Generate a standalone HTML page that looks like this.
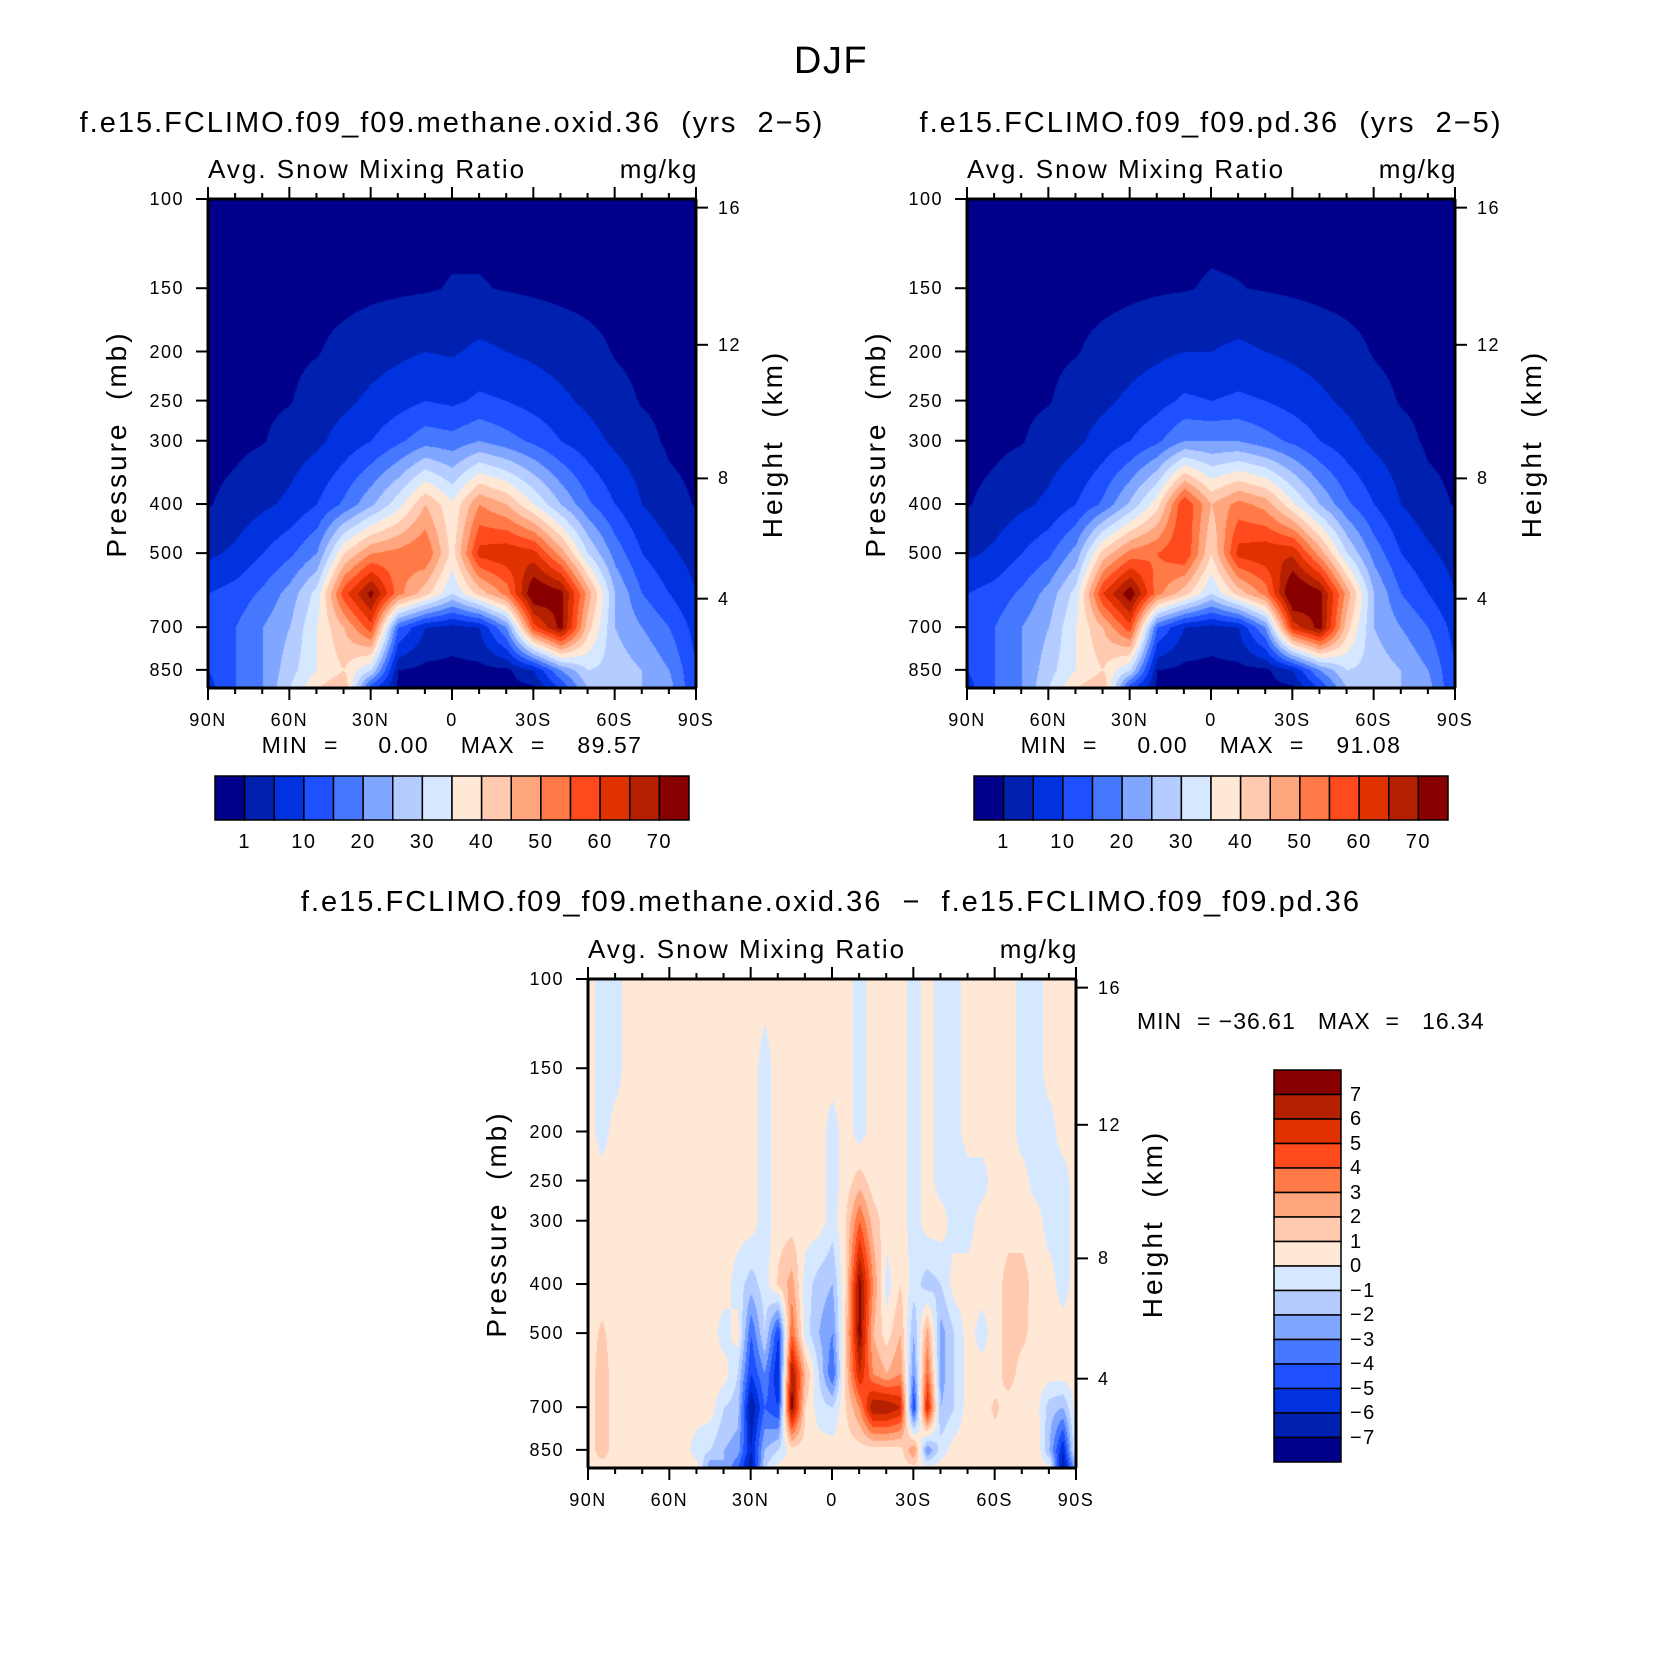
<!DOCTYPE html>
<html><head><meta charset="utf-8">
<style>
html,body{margin:0;padding:0;background:#fff;}
#root{position:relative;width:1658px;height:1660px;overflow:hidden;font-family:"Liberation Sans",sans-serif;color:#000;}
.t{position:absolute;white-space:pre;line-height:1;letter-spacing:1.5px;}
canvas{position:absolute;}
svg{position:absolute;left:0;top:0;}
</style></head>
<body>
<div id="root">
<div class="t" style="left:831px;top:42px;font-size:38px;transform:translateX(-50%)">DJF</div>
<svg id="ov" width="1658" height="1660"></svg>
</div>
<script>
// ---- data ----
const levels = [100,150,200,250,300,400,500,600,700,850,925];
const latsA = [90,80,70,60,50,40,30,20,10,0,-10,-20,-30,-40,-50,-60,-70,-80,-90];
const snowA = [
[0,0,0,0,0,0,0,0,0,0,0,0,0,0,0,0,0,0,0],
[0,0,0,0,0,0,0.3,0.5,0.7,1.2,1.2,0.8,0.5,0.2,0,0,0,0,0],
[0,0,0,0.3,0.8,2,3,4,5,4.5,6,5,4,3,2,0.8,0.3,0,0],
[0,0,0.3,0.8,2.5,4,6,8,10,9,11,10,8,6,4,2,0.8,0.3,0],
[0,0.3,0.8,2.5,4,7,10,14,18,17,20,17,14,10,7,4,2,0.5,0.2],
[0.8,2,4,6,10,16,24,33,45,36,50,45,35,25,16,10,5,2,0.8],
[4,6,10,14,20,40,50,52,55,38,62,64,62,48,30,18,10,6,3],
[10,12,16,22,32,58,72,52,42,30,42,52,76,72,48,25,15,10,5],
[12,15,20,25,35,45,58,15,5,3,5,20,58,72,42,25,20,15,8],
[10,15,20,28,35,40,30,1,0,0,0,0,5,20,30,28,25,20,10],
[8,15,20,30,40,45,10,0,0,0,0,0,0,10,25,28,25,22,10]];
const snowB = [
[0,0,0,0,0,0,0,0,0,0,0,0,0,0,0,0,0,0,0],
[0,0,0,0,0,0,0.3,0.6,0.8,1.3,1.1,0.8,0.5,0.2,0,0,0,0,0],
[0,0,0,0.3,0.8,2,3,4,5,5,6,5,4,3,2,0.8,0.3,0,0],
[0,0,0.3,0.8,2.5,4,6,8,11,10,11,10,8,6,4,2,0.8,0.3,0],
[0,0.3,0.8,2.5,4,7,10,14,20,20,20,17,14,10,7,4,2,0.5,0.2],
[0.8,2,4,6,10,16,26,38,60,45,52,48,36,25,16,10,5,2,0.8],
[4,6,10,14,22,42,52,55,60,40,62,64,64,48,30,18,10,6,3],
[10,12,16,22,32,60,74,52,42,30,42,52,78,72,48,25,15,10,5],
[12,15,20,25,35,45,58,15,5,3,5,20,62,72,42,25,20,15,8],
[10,15,20,28,35,40,30,1,0,0,0,0,5,20,30,28,25,20,10],
[8,15,20,30,40,45,10,0,0,0,0,0,0,10,25,28,25,22,10]];
const latsC = [90,85,80,75,70,65,60,55,50,45,40,35,30,25,20,15,10,5,0,-5,-10,-15,-20,-25,-30,-35,-40,-45,-50,-55,-60,-65,-70,-75,-80,-85,-90];
const diffC = [
[.5,-.5,-.5,.5,.5,.5,.5,.5,.5,.5,.5,.5,.5,.5,.5,.5,.5,.5,.5,.5,-.5,.5,.5,.5,-.5,.5,-.5,-.5,.5,.5,.5,.5,-.5,-.5,.5,.5,.5],
[.5,-.5,-.5,.5,.5,.5,.5,.5,.5,.5,.5,.5,.5,-.5,.5,.5,.5,.5,.5,.5,-.5,.5,.5,.5,-.5,.5,-.5,-.5,.5,.5,.5,.5,-.5,-.5,.5,.5,.5],
[.5,-.5,.5,.5,.5,.5,.5,.5,.5,.5,.5,.5,.5,-.5,.5,.5,.5,.5,-.5,.5,-.5,.5,.5,.5,-.5,.5,-.5,-.5,.5,.5,.5,.5,-.5,-.5,-.5,.5,.5],
[.5,.5,.5,.5,.5,.5,.5,.5,.5,.5,.5,.5,.5,-.5,.5,.5,.5,.5,-.5,.5,1.5,.5,.5,.5,-.5,.5,-.5,-.5,-.5,-.5,.5,.5,.5,-.5,-.5,-.5,.5],
[.5,.5,.5,.5,.5,.5,.5,.5,.5,.5,.5,.5,.5,-.5,.5,.5,.5,.5,-.5,1,4,1.5,.5,.5,-.5,.5,.5,-.5,-.5,.5,.5,.5,.5,.5,-.5,-.5,.5],
[.5,.5,.5,.5,.5,.5,.5,.5,.5,.5,.5,-.5,-1.5,-.5,1.2,2.5,-.5,-1.5,-2,1,7.5,3,-.5,1,-.5,-1.5,-1,.5,.5,.5,.5,1.5,1.5,.5,.5,-.5,.5],
[.5,1.2,.5,.5,.5,.5,.5,.5,.5,.5,-.5,.5,-4,-1,-5,4,-.5,-2,-3,1.5,7.5,2,.5,2,-2,2.5,-2.5,-1,.5,-.5,.5,1.5,1.3,.5,.5,.5,.5],
[.5,1.5,.5,.5,.5,.5,.5,.5,.5,.5,.5,-1,-5,-3,-6,7,2,-1,-4,1.5,6,3,2,3,-3,4,-2.5,-1,.5,.5,.5,1.5,.5,.5,.5,.5,.5],
[.5,1.5,.5,.5,.5,.5,.5,.5,.5,.5,-1,-1.5,-7,-4,-5,7.5,1,-.5,-1,1,3,7,7,6,-5,6,-2,-1,.5,.5,1.2,.5,.5,.5,-1.5,-2,.5],
[.5,1.5,.5,.5,.5,.5,.5,.5,-.5,-1,-2,-2.5,-6,-2,-1,.5,.5,.5,.5,.5,.5,.5,.5,.5,3,-3,-.5,.5,.5,.5,.5,.5,.5,1,-2,-6,.5],
[.5,.5,.5,.5,.5,.5,.5,.5,.5,-3,-2,-4,-7,-1,.5,.5,.5,.5,.5,.5,.5,.5,.5,.5,.5,.5,.5,.5,.5,.5,.5,.5,.5,.5,.5,-7,-2]];
const contourA = [1,5,10,15,20,25,30,35,40,45,50,55,60,65,70];
const contourC = [-7,-6,-5,-4,-3,-2,-1,0,1,2,3,4,5,6,7];
const cbLabelsA = ["1","10","20","30","40","50","60","70"];
const cbLabelsC = ["7","6","5","4","3","2","1","0","\u22121","\u22122","\u22123","\u22124","\u22125","\u22126","\u22127"];
const pTicks = [100,150,200,250,300,400,500,700,850];
const hTicks = [4,8,12,16];
const hTickP = [615,356,194,104];
const latTicks = [90,60,30,0,-30,-60,-90];
const latTickLabels = ["90N","60N","30N","0","30S","60S","90S"];
const palette = ["#00008a","#0020b0","#0032e0","#1e50ff","#4678ff","#80a6ff","#b4ccff","#d6e8ff","#ffe8d6","#ffcab0","#ffa67e","#ff7a46","#ff4a1e","#e03200","#b42000","#880000"];

// ---- helpers ----
const P_TOP=100,P_BOT=923,PW=488,PH=489;
function yScale(p){return Math.log(p/P_TOP)/Math.log(P_BOT/P_TOP)*PH;}
function xScale(lat){return (90-lat)/180*PW;}
const root=document.getElementById('root');
const ov=document.getElementById('ov');
const NS='http://www.w3.org/2000/svg';
function rgb(h){return [parseInt(h.substr(1,2),16),parseInt(h.substr(3,2),16),parseInt(h.substr(5,2),16)];}
const palRGB=palette.map(rgb);
function text(str,x,y,size,name,extra){
  const d=document.createElement('div');d.className='t';d.textContent=str;
  d.style.left=x+'px';d.style.top=y+'px';d.style.fontSize=size+'px';
  if(extra)d.style.cssText+=extra;
  
  
  root.appendChild(d);return d;
}
function line(x1,y1,x2,y2,w,name){
  const l=document.createElementNS(NS,'line');
  l.setAttribute('x1',x1);l.setAttribute('y1',y1);l.setAttribute('x2',x2);l.setAttribute('y2',y2);
  l.setAttribute('stroke','#000');l.setAttribute('stroke-width',w);
  
  
  ov.appendChild(l);
}
function field(L,T,lats,grid,cont,name){
  const c=document.createElement('canvas');c.width=PW;c.height=PH;
  c.style.left=L+'px';c.style.top=T+'px';
  
  
  root.appendChild(c);
  const ctx=c.getContext('2d');const img=ctx.createImageData(PW,PH);
  const rowY=levels.map(yScale);const colX=lats.map(xScale);
  for(let y=0;y<PH;y++){
    let r=0;while(r<rowY.length-2&&rowY[r+1]<y)r++;
    let fy=(y-rowY[r])/(rowY[r+1]-rowY[r]);fy=Math.max(0,Math.min(1,fy));
    for(let x=0;x<PW;x++){
      let k=0;while(k<colX.length-2&&colX[k+1]<x)k++;
      let fx=(x-colX[k])/(colX[k+1]-colX[k]);fx=Math.max(0,Math.min(1,fx));
      const v=(grid[r][k]*(1-fx)+grid[r][k+1]*fx)*(1-fy)+(grid[r+1][k]*(1-fx)+grid[r+1][k+1]*fx)*fy;
      let ci=0;while(ci<cont.length&&v>=cont[ci])ci++;
      const col=palRGB[ci];const o=(y*PW+x)*4;
      img.data[o]=col[0];img.data[o+1]=col[1];img.data[o+2]=col[2];img.data[o+3]=255;
    }
  }
  ctx.putImageData(img,0,0);
}
function axes(L,T,pfx){
  const R=L+PW,B=T+PH;
  line(L,T,R,T,3,pfx+'-frame-top');line(L,B,R,B,3,pfx+'-frame-bottom');
  line(L,T,L,B,3,pfx+'-frame-left');line(R,T,R,B,3,pfx+'-frame-right');
  for(let lat=90;lat>=-90;lat-=10){
    const x=L+xScale(lat);const major=lat%30===0;const len=major?12:6;
    line(x,T,x,T-len,2,pfx+'-top-tick');line(x,B,x,B+len,2,pfx+'-bottom-tick');
  }
  latTicks.forEach((lat,i)=>{
    text(latTickLabels[i],L+xScale(lat),B+23,18,pfx+'-lat-label','transform:translateX(-50%)');
  });
  pTicks.forEach(p=>{
    const y=T+yScale(p);line(L,y,L-12,y,2,pfx+'-pressure-tick');
    text(String(p),L-24,y-9,18,pfx+'-pressure-label','transform:translateX(-100%)');
  });
  hTicks.forEach((h,i)=>{
    const y=T+yScale(hTickP[i]);line(R,y,R+12,y,2,pfx+'-height-tick');
    text(String(h),R+22,y-9,18,pfx+'-height-label');
  });
  text('Pressure  (mb)',L-91,T+PH/2,28,pfx+'-y-axis-title','letter-spacing:3px;transform:translate(-50%,-50%) rotate(-90deg)');
  text('Height  (km)',R+77,T+PH/2,28,pfx+'-y2-axis-title','letter-spacing:3px;transform:translate(-50%,-50%) rotate(-90deg)');
  text('Avg. Snow Mixing Ratio',L,T-43,26,pfx+'-variable-label','letter-spacing:2px;');
  text('mg/kg',R+2,T-43,26,pfx+'-units-label','transform:translateX(-100%)');
}
function hbar(L,T,W,H,labels,pfx){
  const bw=W/16;
  for(let i=0;i<16;i++){
    const r=document.createElementNS(NS,'rect');
    r.setAttribute('x',L+i*bw);r.setAttribute('y',T);r.setAttribute('width',bw);r.setAttribute('height',H);
    r.setAttribute('fill',palette[i]);r.setAttribute('stroke','#000');r.setAttribute('stroke-width',1.5);
    
    
    ov.appendChild(r);
  }
  labels.forEach((s,i)=>text(s,L+(2*i+1)*bw,T+H+12,20,pfx+'-colorbar-label','transform:translateX(-50%)'));
}

const AL=208,AT=199,BL=967,CL=588,CT=979;
field(AL,AT,latsA,snowA,contourA,'panel-a-contour-field');
field(BL,AT,latsA,snowB,contourA,'panel-b-contour-field');
field(CL,CT,latsC,diffC,contourC,'panel-c-contour-field');
axes(AL,AT,'panel-a');axes(BL,AT,'panel-b');axes(CL,CT,'panel-c');
text('f.e15.FCLIMO.f09_f09.methane.oxid.36  (yrs  2\u22125)',AL+PW/2,109,29,'panel-a-title','letter-spacing:2px;transform:translateX(-50%)');
text('f.e15.FCLIMO.f09_f09.pd.36  (yrs  2\u22125)',BL+PW/2,109,29,'panel-b-title','letter-spacing:2px;transform:translateX(-50%)');
text('MIN  =     0.00    MAX  =    89.57',AL+PW/2,734,23,'panel-a-minmax','transform:translateX(-50%)');
text('MIN  =     0.00    MAX  =    91.08',BL+PW/2,734,23,'panel-b-minmax','transform:translateX(-50%)');
hbar(215,776,474,44,cbLabelsA,'panel-a');
hbar(974,776,474,44,cbLabelsA,'panel-b');
text('f.e15.FCLIMO.f09_f09.methane.oxid.36  \u2212  f.e15.FCLIMO.f09_f09.pd.36',831,888,29,'panel-c-title','letter-spacing:2px;transform:translateX(-50%)');
text('MIN  = \u221236.61   MAX  =   16.34',1137,1010,23,'panel-c-minmax','letter-spacing:1px;');
(function(){
  const L=1274,T=1070,W=67,H=392,bh=H/16;
  for(let i=0;i<16;i++){
    const r=document.createElementNS(NS,'rect');
    r.setAttribute('x',L);r.setAttribute('y',T+i*bh);r.setAttribute('width',W);r.setAttribute('height',bh);
    r.setAttribute('fill',palette[15-i]);r.setAttribute('stroke','#000');r.setAttribute('stroke-width',1.5);
    
    
    ov.appendChild(r);
  }
  cbLabelsC.forEach((s,i)=>text(s,1350,T+(i+1)*bh-10,20,'panel-c-colorbar-label'));
})();
root.appendChild(ov);
</script>
</body></html>
